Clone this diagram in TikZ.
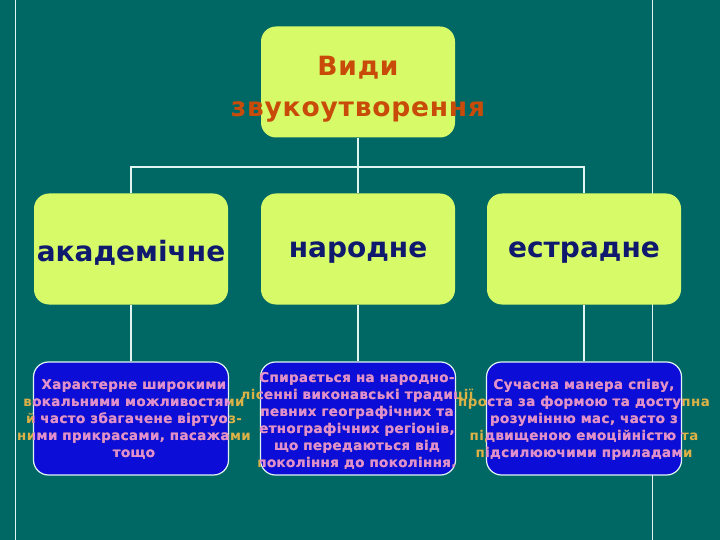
\documentclass[tikz,border=0pt]{standalone}
\usepackage{fontspec}
\setmainfont{DejaVu Sans}
\usetikzlibrary{positioning}
\definecolor{bgteal}{RGB}{0,104,100}
\definecolor{lime}{RGB}{215,250,105}
\definecolor{titlecol}{RGB}{200,75,10}
\definecolor{navy}{RGB}{15,25,110}
\definecolor{boxblue}{RGB}{12,14,215}
\definecolor{pinktxt}{RGB}{225,140,215}
\definecolor{goldtxt}{RGB}{220,178,70}
\definecolor{linecol}{RGB}{225,245,240}
\tikzset{
  limebox/.style={fill=lime, rounded corners=15pt, minimum width=194pt, minimum height=111pt, inner sep=0pt},
  bluebox/.style={fill=boxblue, draw=linecol, line width=1.2pt, rounded corners=15pt, minimum width=195pt, minimum height=113pt, inner sep=0pt},
  conn/.style={draw=linecol, line width=2pt},
  edge/.style={draw=linecol, line width=1pt},
  midtxt/.style={text=navy, font=\fontsize{28}{30}\selectfont\bfseries},
  desc/.style={align=center, font=\fontsize{13.4}{17}\selectfont\bfseries\addfontfeature{LetterSpace=3}, inner sep=0pt}
}
\begin{document}
\begin{tikzpicture}[x=1pt,y=-1pt]
\fill[bgteal] (0,0) rectangle (720,540);
\useasboundingbox (0,0) rectangle (720,540);
\coordinate (l1) at (15,0); \coordinate (l2) at (15,540);
\coordinate (r1) at (652,0); \coordinate (r2) at (652,540);
\draw[edge] (l1) -- (l2);
\draw[edge] (r1) -- (r2);

\node[limebox] (top) at (358,82) {};
\node[text=titlecol, align=center, font=\fontsize{26.5}{41}\selectfont\bfseries\addfontfeature{LetterSpace=3}] (title) at (358,89) {Види\\звукоутворення};

\node[limebox] (m1) at (131,249) {};
\node[limebox] (m2) at (358,249) {};
\node[limebox] (m3) at (584,249) {};
\node[midtxt] (m1t) at (131,253) {академічне};
\node[midtxt] (m2t) at (358,253) {народне};
\node[midtxt] (m3t) at (584,253) {естрадне};

\node[bluebox] (b1) at (131,418.5) {};
\node[bluebox] (b2) at (358,418.5) {};
\node[bluebox] (b3) at (584,418.5) {};

\coordinate (j) at (358,167);
\draw[conn] (top.south) -- (j);
\draw[conn] (m1.north) -- (m1.north |- j) -- (m3.north |- j) -- (m3.north);
\draw[conn] (j) -- (m2.north);
\draw[conn] (m1.south) -- (b1.north);
\draw[conn] (m2.south) -- (b2.north);
\draw[conn] (m3.south) -- (b3.north);

\newcommand{\txtA}{Характерне широкими\\вокальними можливостями\\й часто збагачене віртуоз-\\ними прикрасами, пасажами\\тощо}
\newcommand{\txtB}{Спирається на народно-\\лісенні виконавські традиції\\певних географічних та\\етнографічних регіонів,\\що передаються від\\покоління до покоління.}
\newcommand{\txtC}{Сучасна манера співу,\\проста за формою та доступна\\розумінню  мас, часто з\\підвищеною емоційністю та\\підсилюючими приладами}

\node[desc, text=goldtxt] (d1) at (134,420) {\txtA};
\node[desc, text=goldtxt] (d2) at (357,421) {\txtB};
\node[desc, text=goldtxt] (d3) at (584,420) {\txtC};
\begin{scope}
\clip[rounded corners=15pt] (b1.south west) rectangle (b1.north east);
\node[desc, text=pinktxt] (d1p) at (134,420) {\txtA};
\end{scope}
\begin{scope}
\clip[rounded corners=15pt] (b2.south west) rectangle (b2.north east);
\node[desc, text=pinktxt] (d2p) at (357,421) {\txtB};
\end{scope}
\begin{scope}
\clip[rounded corners=15pt] (b3.south west) rectangle (b3.north east);
\node[desc, text=pinktxt] (d3p) at (584,420) {\txtC};
\end{scope}
\end{tikzpicture}
\end{document}
